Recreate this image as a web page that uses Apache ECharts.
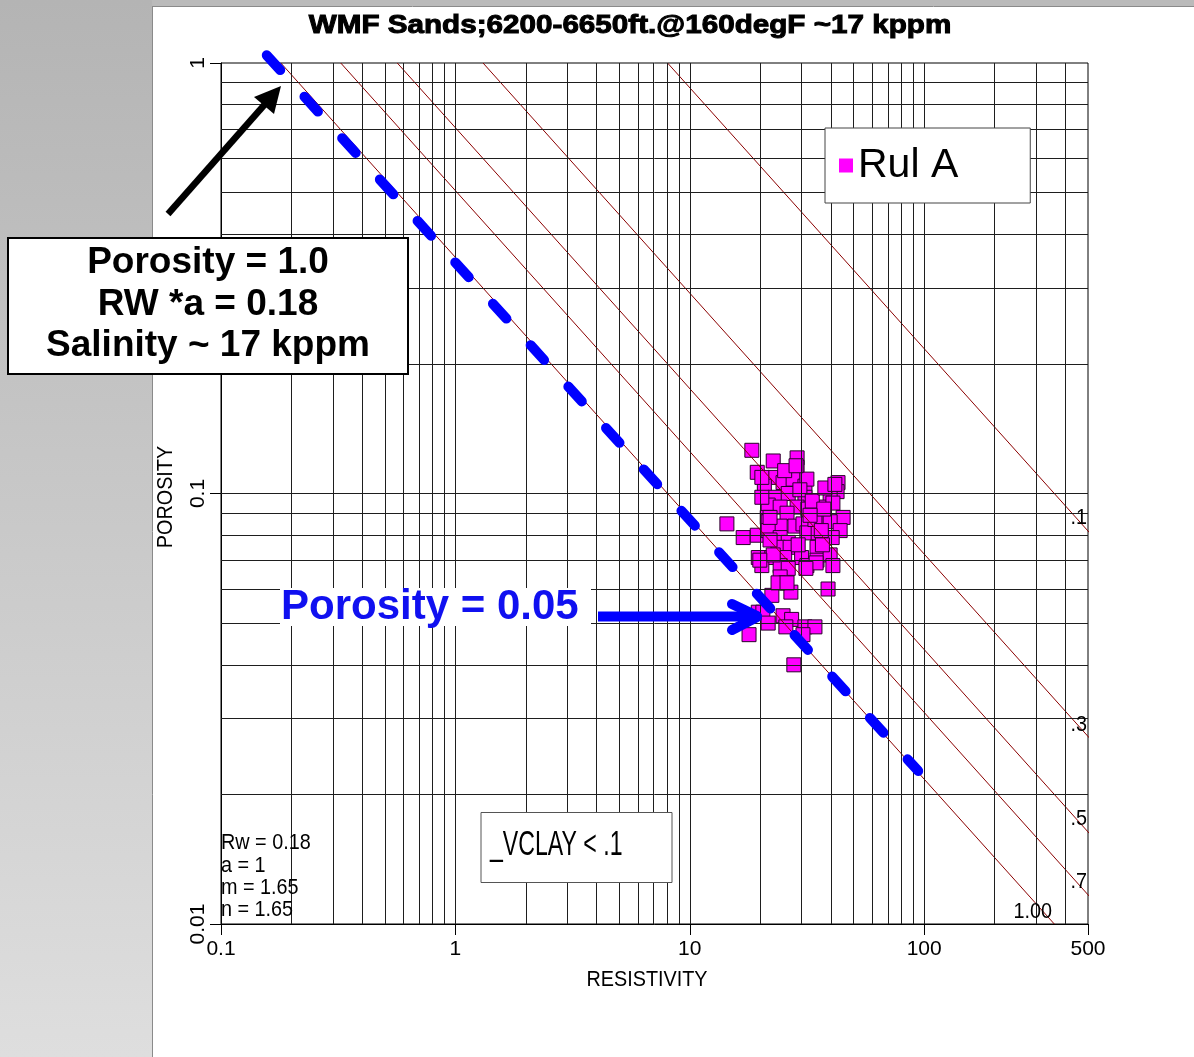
<!DOCTYPE html>
<html>
<head>
<meta charset="utf-8">
<script src="https://cdn.jsdelivr.net/npm/echarts@6/dist/echarts.min.js"></script>
<style>
html,body{margin:0;padding:0;background:#fff;overflow:hidden;}
#chart{width:1194px;height:1057px;}
</style>
</head>
<body>
<div id="chart"></div>
<script>
// ---------------- data ----------------
const chartTitle = 'WMF Sands;6200-6650ft.@160degF ~17 kppm';
const xName = 'RESISTIVITY';
const yName = 'POROSITY';
const xRange = [0.1, 500];
const yRange = [0.01, 1];

// log grid lines
const xGridValues = [0.2,0.3,0.4,0.5,0.6,0.7,0.8,0.9,1,2,3,4,5,6,7,8,9,10,20,30,40,50,60,70,80,90,100,200,300,400];
const yGridValues = [0.02,0.03,0.04,0.05,0.06,0.07,0.08,0.09,0.1,0.2,0.3,0.4,0.5,0.6,0.7,0.8,0.9];

// Sw lines (Rw=0.18, a=1, m=1.65, n=1.65): [resistivity, porosity] endpoints
const swNames = ['1.00', '.7', '.5', '.3', '.1'];
const sw100 = [[0.18, 1], [359.1, 0.01]];
const sw070 = [[0.3243, 1], [647.1, 0.01]];
const sw050 = [[0.565, 1], [1127, 0.01]];
const sw030 = [[1.312, 1], [2618, 0.01]];
const sw010 = [[8.04, 1], [16042, 0.01]];

// blue dashed line (hand drawn water line)
const waterLine = [[0.1568, 1.042], [94.3, 0.02267]];

// Rul A points: [resistivity, porosity]
const rulA = [
[18.4,0.126],[22.7,0.119],[28.7,0.121],[28.7,0.115],[19.4,0.112],[23.1,0.109],[20.8,0.104],[25.0,0.106],[27.6,0.108],[31.0,0.104],
[31.6,0.108],[42.9,0.106],[42.5,0.101],[39.7,0.099],[23.1,0.098],[26.3,0.100],[31.0,0.098],[21.6,0.094],[24.3,0.093],[28.7,0.093],
[31.9,0.092],[36.0,0.093],[40.8,0.095],[21.4,0.088],[26.0,0.090],[34.9,0.088],[45.1,0.088],[14.4,0.085],[21.6,0.086],[24.3,0.084],
[28.1,0.084],[30.4,0.085],[39.7,0.086],[43.8,0.082],[16.9,0.079],[19.4,0.080],[21.6,0.082],[24.3,0.079],[26.3,0.077],[31.6,0.081],
[35.3,0.081],[40.5,0.079],[23.8,0.075],[26.8,0.075],[34.9,0.075],[19.6,0.071],[22.4,0.071],[25.4,0.071],[30.0,0.071],[34.9,0.070],
[39.7,0.072],[20.3,0.068],[24.3,0.068],[26.3,0.067],[31.6,0.068],[40.8,0.068],[24.3,0.064],[25.7,0.062],[38.9,0.060],[22.4,0.058],
[27.0,0.059],[19.6,0.053],[20.5,0.053],[21.6,0.050],[25.0,0.052],[27.2,0.051],[25.7,0.049],[31.0,0.049],[34.2,0.049],[30.4,0.047],
[17.9,0.047],[27.8,0.040],[22.0,0.088],[34.2,0.087],[34.6,0.069],[22.7,0.072],[19.9,0.070],[31.3,0.067],[23.8,0.062],[26.0,0.062],
[20.3,0.109],[25.4,0.113],[29.5,0.102],[33.3,0.096],[37.3,0.092],[37.7,0.103],[41.6,0.105],[22.0,0.078],[29.0,0.076],[36.8,0.076],
[28.4,0.116],[32.6,0.089],[20.3,0.098],[36.4,0.082]
];

const paramLines = ['Rw = 0.18', 'a = 1', 'm = 1.65', 'n = 1.65'];
const noteLines = ['Porosity = 1.0', 'RW *a = 0.18', 'Salinity ~ 17 kppm'];
const noteBlue = 'Porosity = 0.05';
const filterText = '_VCLAY < .1';

// ---------------- chart ----------------
const FONT = '"Liberation Sans", Arial, Helvetica, sans-serif';
const chart = echarts.init(document.getElementById('chart'), null, {renderer: 'canvas'});

function txt(text, x, y, size, opts) {
  opts = opts || {};
  const align = opts.align || 'left';
  const style = {
    text: text,
    font: (opts.bold ? 'bold ' : '') + size + 'px ' + FONT,
    fill: opts.color || '#000',
    align: align, verticalAlign: 'middle',
    textAlign: align, textVerticalAlign: 'middle'
  };
  if (opts.stroke) { style.stroke = opts.color || '#000'; style.lineWidth = opts.stroke; }
  return {
    type: 'text', x: x, y: y, z: 100,
    rotation: opts.rotation || 0,
    scaleX: opts.scaleX || 1,
    silent: true,
    style: style
  };
}

const swSeries = [sw100, sw070, sw050, sw030, sw010].map(function (d, i) {
  return {
    type: 'line', name: 'Sw ' + swNames[i], data: d, z: 4, silent: true,
    showSymbol: false, symbol: 'none', animation: false,
    lineStyle: {color: '#8b0000', width: 1}
  };
});

const swLabelPos = [[1052, 912], [1087, 882], [1087, 819], [1087, 725], [1087, 518]];

const graphics = [
  // page background panels
  {type: 'rect', z: -10, silent: true, shape: {x: 0, y: 0, width: 1194, height: 6}, style: {fill: '#bababa'}},
  {type: 'rect', z: -10, silent: true, shape: {x: 0, y: 0, width: 152, height: 1057},
    style: {fill: new echarts.graphic.LinearGradient(0, 0, 0, 1, [{offset: 0, color: '#b4b4b4'}, {offset: 1, color: '#dedede'}])}},
  {type: 'line', z: -9, silent: true, shape: {x1: 152.5, y1: 6, x2: 152.5, y2: 1057}, style: {stroke: '#8a8a8a', lineWidth: 1}},
  {type: 'line', z: -9, silent: true, shape: {x1: 152, y1: 6.5, x2: 1194, y2: 6.5}, style: {stroke: '#8a8a8a', lineWidth: 1}},
  // title
  txt(chartTitle, 630, 26, 26, {bold: true, align: 'center', scaleX: 1.14, stroke: 1}),
  // axis names
  txt(xName, 647, 980, 22, {align: 'center', scaleX: 0.9}),
  txt(yName, 166, 497, 22, {align: 'center', scaleX: 0.9, rotation: Math.PI / 2}),
  // VCLAY box
  {type: 'rect', z: 100, silent: true, shape: {x: 481, y: 812.5, width: 191, height: 70}, style: {fill: '#fff', stroke: '#555', lineWidth: 1}},
  txt(filterText, 490, 845, 35, {scaleX: 0.66}),
  // note box
  {type: 'rect', z: 100, silent: true, shape: {x: 8, y: 238, width: 400, height: 136}, style: {fill: '#fff', stroke: '#000', lineWidth: 2}},
  // black arrow
  {type: 'line', z: 101, silent: true, shape: {x1: 168, y1: 214, x2: 266, y2: 103}, style: {stroke: '#000', lineWidth: 6.5}},
  {type: 'polygon', z: 101, silent: true, shape: {points: [[281, 86], [274, 114], [254, 97]]}, style: {fill: '#000'}},
  // blue text with white backing
  {type: 'rect', z: 100, silent: true, shape: {x: 280, y: 588, width: 311, height: 38}, style: {fill: '#fff'}},
  txt(noteBlue, 281, 607, 42, {bold: true, color: '#1010f0'}),
  // blue arrow
  {type: 'line', z: 101, silent: true, shape: {x1: 598, y1: 616.5, x2: 755, y2: 616.5}, style: {stroke: '#0000ff', lineWidth: 10}},
  {type: 'line', z: 101, silent: true, shape: {x1: 732, y1: 604, x2: 757, y2: 616}, style: {stroke: '#0000ff', lineWidth: 10, lineCap: 'round'}},
  {type: 'line', z: 101, silent: true, shape: {x1: 732, y1: 630, x2: 757, y2: 617}, style: {stroke: '#0000ff', lineWidth: 10, lineCap: 'round'}}
];
noteLines.forEach(function (t, i) { graphics.push(txt(t, 208, [263, 305, 346][i], 37, {bold: true, align: 'center'})); });
paramLines.forEach(function (t, i) { graphics.push(txt(t, 221, [843, 865.5, 888, 910][i], 22, {scaleX: 0.9})); });
swNames.forEach(function (t, i) { graphics.push(txt(t, swLabelPos[i][0], swLabelPos[i][1], 22, {align: 'right', scaleX: 0.9})); });

const gridMarks = xGridValues.map(function (v) { return {xAxis: v}; })
  .concat(yGridValues.map(function (v) { return {yAxis: v}; }));

const option = {
  backgroundColor: '#fff',
  animation: false,
  textStyle: {fontFamily: FONT},
  grid: {left: 221, top: 63, right: 106, bottom: 133, show: true, backgroundColor: '#fff',
    borderColor: '#000', borderWidth: 1, containLabel: false, outerBoundsMode: 'none'},
  legend: {
    data: ['Rul A'], left: 825, top: 128, orient: 'horizontal', icon: 'rect',
    itemWidth: 14, itemHeight: 14, itemGap: 0, padding: [17, 72, 17, 14],
    backgroundColor: '#fff', borderColor: '#444', borderWidth: 1, borderRadius: 0,
    selectedMode: false, z: 50,
    itemStyle: {borderWidth: 0, color: '#ff00ff'},
    textStyle: {fontSize: 41, lineHeight: 41, color: '#000', fontFamily: FONT}
  },
  xAxis: {
    type: 'log', logBase: 10, min: xRange[0], max: xRange[1],
    axisLine: {show: true, onZero: false, lineStyle: {color: '#000', width: 1}},
    axisTick: {show: true, length: 11, lineStyle: {color: '#000'}},
    axisLabel: {fontSize: 21, color: '#000', margin: 15, fontFamily: FONT},
    splitLine: {show: false}, minorTick: {show: false}, minorSplitLine: {show: false}
  },
  yAxis: {
    type: 'log', logBase: 10, min: yRange[0], max: yRange[1],
    axisLine: {show: true, onZero: false, lineStyle: {color: '#000', width: 1}},
    axisTick: {show: true, length: 11, lineStyle: {color: '#000'}},
    axisLabel: {fontSize: 21, color: '#000', margin: 12, rotate: 90, fontFamily: FONT},
    splitLine: {show: false}, minorTick: {show: false}, minorSplitLine: {show: false}
  },
  series: [
    {
      type: 'line', name: 'grid', data: [], z: 1, silent: true,
      markLine: {
        silent: true, animation: false, symbol: ['none', 'none'],
        label: {show: false}, emphasis: {disabled: true},
        lineStyle: {color: '#1e1e1e', width: 1, type: 'solid'},
        data: gridMarks
      }
    },
    {
      type: 'scatter', name: 'Rul A', data: rulA, z: 3, symbol: 'rect', symbolSize: 14,
      itemStyle: {color: '#ff00ff', borderColor: '#2a002a', borderWidth: 1, opacity: 1},
      emphasis: {disabled: true}
    }
  ].concat(swSeries).concat([
    {
      type: 'line', name: 'water', data: waterLine, z: 5, clip: false, silent: true,
      showSymbol: false, symbol: 'none',
      lineStyle: {color: '#0000ff', width: 10, type: [20, 36], cap: 'round'}
    }
  ]),
  graphic: {elements: graphics}
};
chart.setOption(option);
</script>
</body>
</html>
